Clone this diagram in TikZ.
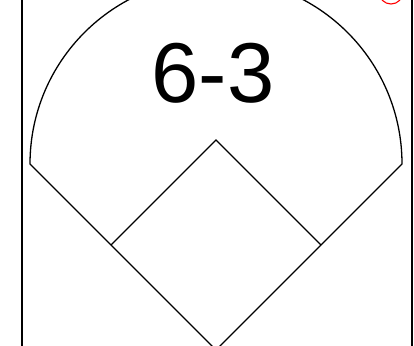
\documentclass[tikz,border=0pt]{standalone}
\usepackage{fontspec}
\setmainfont{Liberation Sans}
\usetikzlibrary{positioning, calc}

\begin{document}
\begin{tikzpicture}[
    x=1pt, y=-1pt,
    field/.style={draw=black, line width=1.3pt, line join=miter},
    score/.style={font=\fontsize{85}{85}\selectfont, inner sep=0pt}
]
\useasboundingbox (0,0) rectangle (414,345);
\clip (0,0) rectangle (414,345);

% Card frame and the red mark
\draw[line width=1.5pt] (22,-20) rectangle (412,370);
\draw[red, line width=1.1pt] (391,-8) circle (12);

% Outfield arc and foul lines
\coordinate (L) at (30,164);
\coordinate (R) at (402,164);
\coordinate (H) at (216,350);
\draw[field] (H) -- (L) arc[start angle=180, end angle=360, radius=186] -- cycle;

% Infield diamond
\coordinate (B1) at (321,245);
\coordinate (B2) at (216,140);
\coordinate (B3) at (111,245);
\draw[field] (B1) -- (B2) -- (B3);

% Play label
\node[score] (play) at (213,73) {6-3};

\end{tikzpicture}
\end{document}
